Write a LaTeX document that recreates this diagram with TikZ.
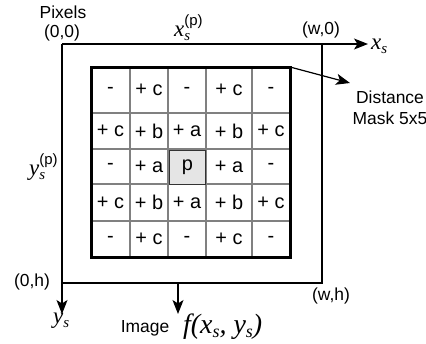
\documentclass[tikz,border=0pt]{standalone}
\usepackage{fontspec}
\setmainfont{Liberation Sans}
\newfontfamily\tnr{Liberation Serif}
\usetikzlibrary{arrows.meta}
% italic serif variable with a lowered subscript
\newcommand\vsub[2]{{\fontsize{23}{23}\selectfont\tnr\itshape #1}\raisebox{-4bp}{\fontsize{15}{15}\selectfont\tnr\itshape #2}}
% italic serif variable with stacked subscript and superscript
\newcommand\vsubsup[3]{{\fontsize{23}{23}\selectfont\tnr\itshape #1}\rlap{\raisebox{-4bp}{\fontsize{15}{15}\selectfont\tnr\itshape #2}}\raisebox{11bp}{\fontsize{15}{15}\selectfont #3}}
\begin{document}
\begin{tikzpicture}[x=1bp,y=-1bp,
  axis/.style={line width=1.2bp, draw=black},
  tip/.style={-{Stealth[length=14bp,width=11bp,inset=3.5bp]}},
  gridline/.style={line width=1.2bp, draw=black!50},
  lbl/.style={font=\fontsize{17.5}{19}\selectfont, inner sep=0pt},
  cell/.style={font=\fontsize{20}{22}\selectfont, inner sep=0pt},
  pcell/.style={cell, fill=black!10, draw=black!80, line width=1bp,
    minimum width=36bp, minimum height=34bp},
  mth/.style={inner sep=0pt}]
\useasboundingbox (0,0) rectangle (426,344);

% image frame and coordinate axes
\coordinate (O) at (62,44);
\coordinate (W0) at (322,44);
\coordinate (Wh) at (322,283);
\coordinate (Oh) at (62,283);
\coordinate (xend) at (368,44);
\coordinate (yend) at (62,314);
\coordinate (imgtop) at (178,283);
\coordinate (imgend) at (178,314);
\draw[axis] (W0) -- (Wh) -- (Oh);
\draw[axis, tip] (O) -- (xend);
\draw[axis, tip] (O) -- (yend);
\draw[axis, tip] (imgtop) -- (imgend);

% distance mask grid
\foreach \x in {130,168,206,252} \draw[gridline] (\x,67) -- (\x,257);
\foreach \y in {113,149,184,221} \draw[gridline] (91,\y) -- (290,\y);
\coordinate (mNW) at (91,67);
\coordinate (mNE) at (290,67);
\draw[line width=3bp] (mNW) rectangle (290,257);

\foreach \xc/\t [count=\c] in {110.5/-,149/+ c,187/-,229/+ c,271/-}
  \node[cell] (r1c\c) at (\xc,90) {\t};
\foreach \xc/\t [count=\c] in {110.5/+ c,149/+ b,187/+ a,229/+ b,271/+ c}
  \node[cell] (r2c\c) at (\xc,131) {\t};
\node[cell] (r3c1) at (110.5,166.5) {-};
\node[cell] (r3c2) at (149,166.5) {+ a};
\node[pcell] (r3c3) at (187.5,167.5) {p};
\node[cell] (r3c4) at (229,166.5) {+ a};
\node[cell] (r3c5) at (271,166.5) {-};
\foreach \xc/\t [count=\c] in {110.5/+ c,149/+ b,187/+ a,229/+ b,271/+ c}
  \node[cell] (r4c\c) at (\xc,202.5) {\t};
\foreach \xc/\t [count=\c] in {110.5/-,149/+ c,187/-,229/+ c,271/-}
  \node[cell] (r5c\c) at (\xc,239) {\t};

% mask caption and pointer
\node[lbl, align=center] (mask) at (390,108) {Distance\\[2bp]Mask 5x5};
\coordinate (maskTip) at (350,83);
\draw[line width=1.2bp, tip] (mNE) -- (maskTip);

% corner and axis labels
\node[lbl] (pixels) at (63,12) {Pixels};
\node[lbl] (c00) at (62,33) {(0,0)};
\node[lbl] (cw0) at (321,30) {(w,0)};
\node[lbl] (c0h) at (32,282) {(0,h)};
\node[lbl] (cwh) at (331,296) {(w,h)};
\node[mth, anchor=base west] (xs) at (371,49) {\vsub{x}{s}};
\node[mth, anchor=base west] (ys) at (53,323) {\vsub{y}{s}};
\node[mth, anchor=base west] (xsp) at (174,36) {\vsubsup{x}{s}{(p)}};
\node[mth, anchor=base west] (ysp) at (29,175) {\vsubsup{y}{s}{(p)}};
\node[lbl] (image) at (145,328) {Image};
\node[mth, anchor=base west] (fxy) at (183,333)
  {{\fontsize{28}{28}\selectfont\tnr\itshape f(x}\raisebox{-4bp}{\fontsize{18}{18}\selectfont\tnr\itshape s}{\fontsize{28}{28}\selectfont\tnr\itshape ,\ y}\raisebox{-4bp}{\fontsize{18}{18}\selectfont\tnr\itshape s}{\fontsize{28}{28}\selectfont\tnr\itshape )}};
\end{tikzpicture}
\end{document}
